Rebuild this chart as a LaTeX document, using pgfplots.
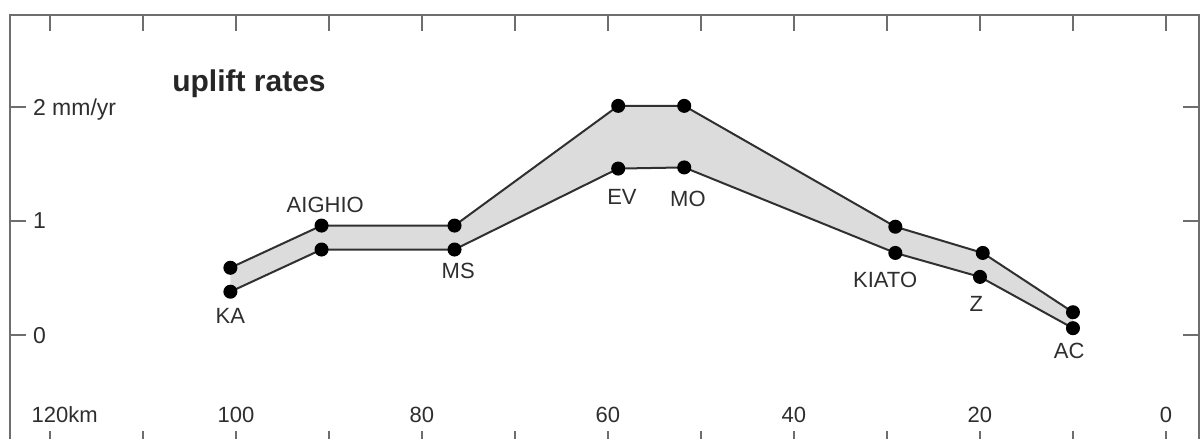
\documentclass[border=0pt]{standalone}
\usepackage{fontspec}
\setmainfont{Liberation Sans}
\usepackage{pgfplots}
\pgfplotsset{compat=1.18}
\definecolor{framegray}{HTML}{6E6E6E}
\definecolor{bandfill}{HTML}{DCDCDC}
\definecolor{linegray}{HTML}{303030}
\begin{document}
\begin{tikzpicture}
\begin{axis}[
 scale only axis, width=594.5pt, height=216pt,
 xmin=-3.55, xmax=124.3, ymin=-0.982, ymax=2.807,
 x dir=reverse,
 axis line style={framegray, line width=1pt},
 tick style={framegray, line width=0.9pt},
 tick align=inside, major tick length=8pt,
 xtick={0,10,...,120},
 xticklabels={0,,20,,40,,60,,80,,100,,120\rlap{km}},
 ytick={0,1,2}, yticklabels={0,1,2 mm/yr},
 /pgf/number format/assume math mode=true,
 xticklabel style={anchor=base, yshift=12pt, font=\fontsize{11}{13}\selectfont},
 yticklabel style={anchor=west, xshift=8pt, text depth=0pt, font=\fontsize{11.5}{13}\selectfont},
 tick label style={text=black!82},
 clip=false,
]
\addplot[fill=bandfill, draw=none] coordinates {
 (100.6,0.59) (90.8,0.96) (76.5,0.96) (58.9,2.01) (51.8,2.01) (29.1,0.95) (19.7,0.72) (10.0,0.20)
 (10.0,0.06) (20.0,0.51) (29.1,0.72) (51.8,1.47) (58.9,1.46) (76.5,0.75) (90.8,0.75) (100.6,0.38)} --cycle;
\addplot[linegray, line width=1pt, mark=*, mark size=3pt, mark options={fill=black, draw=black}] coordinates {
 (100.6,0.59) (90.8,0.96) (76.5,0.96) (58.9,2.01) (51.8,2.01) (29.1,0.95) (19.7,0.72) (10.0,0.20)};
\addplot[linegray, line width=1pt, mark=*, mark size=3pt, mark options={fill=black, draw=black}] coordinates {
 (100.6,0.38) (90.8,0.75) (76.5,0.75) (58.9,1.46) (51.8,1.47) (29.1,0.72) (20.0,0.51) (10.0,0.06)};
\begin{scope}[every node/.style={font=\fontsize{11}{13}\selectfont, text=black!82}]
\node at (axis cs:100.6,0.167) {KA};
\node at (axis cs:90.4,1.14) {AIGHIO};
\node at (axis cs:76.1,0.56) {MS};
\node at (axis cs:58.5,1.21) {EV};
\node at (axis cs:51.4,1.19) {MO};
\node at (axis cs:30.2,0.48) {KIATO};
\node at (axis cs:20.4,0.27) {Z};
\node at (axis cs:10.4,-0.14) {AC};
\end{scope}
\node[font=\bfseries\fontsize{15}{17}\selectfont, text=black!85] at (axis cs:98.6,2.20) {uplift rates};
\coordinate (ll) at (axis description cs:0,0);
\coordinate (ur) at (axis description cs:1,1);
\end{axis}
\pgfresetboundingbox
\path[use as bounding box] ([shift={(-5pt,4pt)}]ll) rectangle ([shift={(0.5pt,7.5pt)}]ur);
\end{tikzpicture}
\end{document}
